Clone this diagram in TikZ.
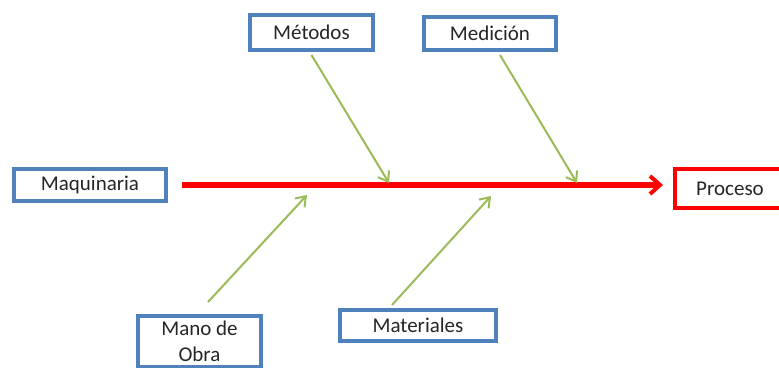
\documentclass[tikz,border=0pt]{standalone}
\usepackage{fontspec}
\setmainfont{Carlito}
\usetikzlibrary{arrows.meta,calc}
\definecolor{boxblue}{HTML}{4F81BD}
\definecolor{armgreen}{HTML}{9BBB59}
\definecolor{spinered}{HTML}{FF0000}
\tikzset{
  cause/.style={draw=boxblue, line width=4pt, fill=white, inner sep=0pt,
    font=\fontsize{21}{26}\selectfont, text=black!85, align=center},
  effect/.style={draw=spinered, line width=4pt, fill=white, inner sep=0pt,
    font=\fontsize{21}{26}\selectfont, text=black!85},
  arm/.style={draw=armgreen, line width=2pt, -{Straight Barb[length=9pt,width=13pt,line width=2pt]}},
  spine/.style={draw=spinered, line width=5.5pt, -{Straight Barb[length=10pt,width=18pt,line width=4pt]}}
}
\begin{document}
\begin{tikzpicture}[x=1pt,y=-1pt]
\useasboundingbox (0,0) rectangle (779,367);
\clip (0,0) rectangle (779,367);
\node[cause, minimum width=152pt, minimum height=32pt] (maq) at (90,185) {Maquinaria};
\node[cause, minimum width=123pt, minimum height=35pt] (met) at (311.5,32.5) {Métodos};
\node[cause, minimum width=132pt, minimum height=33pt] (med) at (490,33.5) {Medición};
\node[cause, minimum width=156pt, minimum height=31pt] (mat) at (418,325.5) {Materiales};
\node[cause, minimum width=123pt, minimum height=51pt, anchor=north] (mano) at (199.5,314) {Mano de\\Obra};
\draw[boxblue, line width=4pt] (mano.south west) -- ++(0,20) (mano.south east) -- ++(0,20);
\node[effect, minimum width=110pt, minimum height=39pt] (pro) at (730,188.5) {Proceso};
\coordinate (t1) at (389,183);
\coordinate (t2) at (577,183);
\coordinate (t3) at (307,195);
\coordinate (t4) at (491,196);
\coordinate (send) at (663,185);
\draw[spine] ([xshift=14pt]maq.east) -- (send);
\draw[arm] ($(met.south)+(0,3)$) -- (t1);
\draw[arm] ($(med.south)+(10,3)$) -- (t2);
\draw[arm] ($(mano.north)+(8.5,-12)$) -- (t3);
\draw[arm] ($(mat.north)+(-26,-3)$) -- (t4);
\end{tikzpicture}
\end{document}
